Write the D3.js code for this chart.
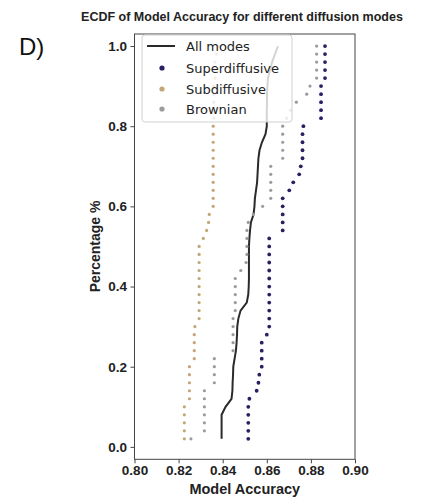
<!DOCTYPE html>
<html>
<head>
<meta charset="utf-8">
<script src="https://cdn.jsdelivr.net/npm/d3@7"></script>
<style>
body{margin:0;background:#fff;}
.canvas{width:438px;height:501px;}
</style>
</head>
<body>
<div class="canvas" id="canvas"></div>
<script>
// ECDF values, sorted (50 models each)
var superdiffusive = [0.8516,0.8516,0.8516,0.8516,0.8516,0.8521,0.8554,0.8562,0.8566,0.8577,
    0.8577,0.8577,0.8577,0.8600,0.8611,0.8611,0.8611,0.8611,0.8611,0.8611,
    0.8611,0.8611,0.8611,0.8611,0.8611,0.8611,0.8672,0.8672,0.8672,0.8672,
    0.8672,0.8702,0.8720,0.8747,0.8754,0.8762,0.8762,0.8762,0.8762,0.8766,
    0.8846,0.8846,0.8846,0.8846,0.8846,0.8864,0.8864,0.8864,0.8864,0.8864];
var subdiffusive = [0.8226,0.8226,0.8226,0.8226,0.8226,0.8249,0.8249,0.8249,0.8249,0.8249,
    0.8271,0.8271,0.8271,0.8271,0.8274,0.8293,0.8293,0.8293,0.8293,0.8293,
    0.8293,0.8293,0.8293,0.8293,0.8293,0.8312,0.8327,0.8336,0.8339,0.8357,
    0.8357,0.8357,0.8357,0.8357,0.8357,0.8357,0.8357,0.8357,0.8357,0.8357,
    0.8359,0.8359,0.8359,0.8359,0.8359,0.8365,0.8365,0.8365,0.8372,0.8380];
var brownian = [0.8256,0.8317,0.8317,0.8317,0.8317,0.8317,0.8317,0.8362,0.8362,0.8362,
    0.8362,0.8447,0.8447,0.8447,0.8447,0.8447,0.8457,0.8457,0.8457,0.8457,
    0.8457,0.8482,0.8506,0.8510,0.8510,0.8510,0.8510,0.8516,0.8539,0.8581,
    0.8618,0.8618,0.8618,0.8618,0.8618,0.8672,0.8672,0.8672,0.8672,0.8672,
    0.8690,0.8708,0.8734,0.8781,0.8796,0.8826,0.8826,0.8826,0.8826,0.8826];
var allModes = [0.8395,0.8395,0.8395,0.8395,0.8413,0.8440,0.8444,0.8445,0.8447,0.8448,
    0.8454,0.8460,0.8463,0.8465,0.8466,0.8471,0.8481,0.8509,0.8516,0.8518,
    0.8519,0.8519,0.8519,0.8519,0.8519,0.8521,0.8524,0.8528,0.8540,0.8544,
    0.8546,0.8551,0.8556,0.8558,0.8560,0.8562,0.8567,0.8578,0.8594,0.8600,
    0.8600,0.8600,0.8601,0.8601,0.8603,0.8605,0.8615,0.8624,0.8637,0.8651];

var seriesNames = ['Superdiffusive','Subdiffusive','Brownian'];
var seriesColors = ['#2b1f63','#c4a578','#9b9b9b'];
var xTicks = [0.80,0.82,0.84,0.86,0.88,0.90];
var yTicks = [0.0,0.2,0.4,0.6,0.8,1.0];

//margin convention
var m = {t:34,r:83,b:41.7,l:134.5};
var outerWidth = 438, outerHeight = 501;
var w = outerWidth - m.l - m.r,
    h = outerHeight - m.t - m.b;

var svg = d3.select('.canvas')
    .append('svg')
    .attr('width',outerWidth)
    .attr('height',outerHeight);

var plot = svg.append('g')
    .attr('transform','translate(' + m.l + ',' + m.t + ')');

var x = d3.scaleLinear().domain([0.80,0.90]).range([0,w]);
var y = d3.scaleLinear().domain([-0.031,1.03]).range([h,0]);

function ecdf(arr){
    return arr.map(function(v,i){ return {x:v, p:(i+1)/arr.length}; });
}

var boldFont = '"Liberation Sans", Arial, sans-serif';

// axes
var xAxis = plot.append('g')
    .attr('transform','translate(0,' + h + ')')
    .call(d3.axisBottom(x).tickValues(xTicks).tickFormat(d3.format('.2f')).tickSize(4).tickPadding(2));
var yAxis = plot.append('g')
    .call(d3.axisLeft(y).tickValues(yTicks).tickFormat(d3.format('.1f')).tickSize(4).tickPadding(3.5));

[xAxis,yAxis].forEach(function(a){
    a.select('.domain').remove();
    a.selectAll('line').attr('stroke','#444');
    a.selectAll('text')
        .attr('fill','#222')
        .style('font-family',boldFont)
        .style('font-weight','bold')
        .style('font-size','13.5px');
});

// ECDF line for all modes
var line = d3.line()
    .x(function(d){ return x(d.x); })
    .y(function(d){ return y(d.p); });

plot.append('path')
    .datum(ecdf(allModes))
    .attr('d',line)
    .attr('fill','none')
    .attr('stroke','#2a2a2a')
    .attr('stroke-width',2);

// points for each mode
[superdiffusive,subdiffusive,brownian].forEach(function(arr,k){
    plot.append('g').selectAll('circle')
        .data(ecdf(arr))
        .enter()
        .append('circle')
        .attr('cx',function(d){ return x(d.x); })
        .attr('cy',function(d){ return y(d.p); })
        .attr('r', k === 0 ? 1.9 : 1.6)
        .attr('fill',seriesColors[k]);
});

// frame
plot.append('rect')
    .attr('width',w)
    .attr('height',h)
    .attr('fill','none')
    .attr('stroke','#444')
    .attr('stroke-width',1);

// legend
var leg = plot.append('g').attr('transform','translate(7.5,1)');
leg.append('rect')
    .attr('width',150).attr('height',87)
    .attr('rx',3)
    .attr('fill','#fff').attr('fill-opacity',0.8)
    .attr('stroke','#d0d0d0');
leg.append('line')
    .attr('x1',5).attr('x2',33).attr('y1',11).attr('y2',11)
    .attr('stroke','#2a2a2a').attr('stroke-width',2);
var legLabels = ['All modes'].concat(seriesNames);
legLabels.forEach(function(t,i){
    var yy = [11,33,54,74][i];
    if(i > 0){
        leg.append('circle').attr('cx',20).attr('cy',yy).attr('r',2.6).attr('fill',seriesColors[i-1]);
    }
    leg.append('text')
        .attr('x',44).attr('y',yy + 4.6)
        .text(t)
        .style('font-family','"DejaVu Sans", sans-serif')
        .style('font-size','13px')
        .attr('fill','#222');
});

// titles
svg.append('text')
    .attr('x',242).attr('y',21)
    .attr('text-anchor','middle')
    .text('ECDF of Model Accuracy for different diffusion modes')
    .style('font-family',boldFont).style('font-weight','bold').style('font-size','12.5px')
    .attr('fill','#222');

svg.append('text')
    .attr('x',m.l + w/2).attr('y',494)
    .attr('text-anchor','middle')
    .text('Model Accuracy')
    .style('font-family',boldFont).style('font-weight','bold').style('font-size','14.5px')
    .attr('fill','#222');

svg.append('text')
    .attr('transform','translate(100,' + (m.t + y(0.5)) + ') rotate(-90)')
    .attr('text-anchor','middle')
    .text('Percentage %')
    .style('font-family',boldFont).style('font-weight','bold').style('font-size','14px')
    .attr('fill','#222');

svg.append('text')
    .attr('x',19).attr('y',55)
    .text('D)')
    .style('font-family','"Liberation Sans", Arial, sans-serif').style('font-size','24px')
    .attr('fill','#111');
</script>
</body>
</html>
